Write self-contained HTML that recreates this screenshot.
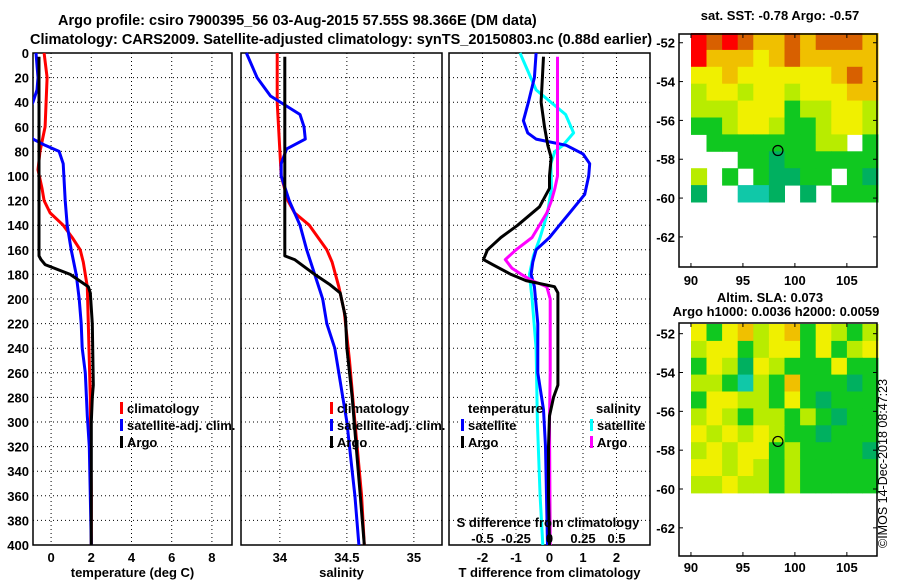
<!DOCTYPE html>
<html><head><meta charset="utf-8"><style>
html,body{margin:0;padding:0;background:#fff;}
svg{display:block;font-family:"Liberation Sans",sans-serif;}
text{font-weight:bold;font-size:13px;fill:#000;}
</style></head><body>
<svg id="chart" width="900" height="580" viewBox="0 0 900 580" xmlns="http://www.w3.org/2000/svg">
<text x="58" y="25" style="font-size:14.5px">Argo profile: csiro 7900395_56 03-Aug-2015 57.55S 98.366E (DM data)</text>
<text x="30" y="44" style="font-size:14.5px">Climatology: CARS2009. Satellite-adjusted climatology: synTS_20150803.nc (0.88d earlier)</text>
<g id="plots"></g>
</svg>
<script>
// ---------- data ----------
const depthTicks = [0,20,40,60,80,100,120,140,160,180,200,220,240,260,280,300,320,340,360,380,400];
const tempTicks = [0,2,4,6,8];
const salTicks = [34,34.5,35];
const salTickLabels = ["34","34.5","35"];
const dTTicks = [-2,-1,0,1,2];
const dSTicks = [-0.5,-0.25,0,0.25,0.5];
const dSTickLabels = ["-0.5","-0.25","0","0.25","0.5"];

const tArgoD = [3,165,168,172,180,190,195,220,270,280,300,400];
const tArgoV = [-0.6,-0.6,-0.5,-0.3,0.95,1.85,1.95,2.05,2.1,2.05,2.0,2.0];
const tClimD = [0,20,40,60,80,95,110,120,130,140,150,160,170,190,220,280,360,400];
const tClimV = [-0.35,-0.2,-0.25,-0.3,-0.55,-0.65,-0.45,-0.35,-0.05,0.6,1.05,1.45,1.6,1.8,1.85,1.95,2.0,2.0];
const tSatD = [0,20,30,40,50,60,70,75,80,90,120,140,160,180,200,220,240,260,295,320,360,400];
const tSatV = [-0.75,-0.65,-0.7,-0.9,-1.3,-1.3,-0.9,-0.3,0.4,0.6,0.7,0.8,1.0,1.25,1.4,1.5,1.55,1.7,1.8,1.9,1.95,2.0];

const sArgoD = [3,165,168,180,188,195,215,240,280,320,360,400];
const sArgoV = [34.037,34.037,34.11,34.26,34.37,34.45,34.49,34.5,34.54,34.57,34.6,34.63];
const sClimD = [0,40,80,100,120,130,140,160,170,190,210,250,300,360,400];
const sClimV = [33.98,33.98,34.0,34.01,34.06,34.11,34.22,34.35,34.39,34.44,34.48,34.52,34.56,34.61,34.63];
const sSatD = [0,20,35,50,60,70,78,90,100,120,140,160,180,200,220,240,260,280,300,320,360,400];
const sSatV = [33.75,33.83,33.93,34.15,34.18,34.19,34.05,34.01,34.01,34.07,34.15,34.2,34.26,34.32,34.35,34.41,34.44,34.47,34.5,34.52,34.56,34.59];

const dTArgoD = [3,40,60,75,85,100,110,125,140,150,160,168,172,180,185,190,195,220,270,280,295,320,360,400];
const dTArgoV = [-0.18,-0.25,-0.15,-0.05,0.05,0,0,-0.3,-0.95,-1.45,-1.85,-1.97,-1.7,-1.15,-0.7,0.15,0.25,0.25,0.25,0.12,0,-0.03,-0.03,0];
const dTSatD = [0,20,40,55,65,70,75,82,90,100,115,130,140,150,160,170,180,190,220,260,290,320,400];
const dTSatV = [-0.4,-0.45,-0.63,-0.78,-0.65,-0.4,0.5,1.0,1.2,1.17,1.05,0.6,0.3,0,-0.4,-0.5,-0.55,-0.45,-0.35,-0.35,-0.18,-0.12,-0.06];
const dSSatD = [0,30,50,65,75,80,90,110,130,150,165,180,200,240,300,360,400];
const dSSatV = [-0.22,-0.1,0.12,0.18,0.1,0.04,0.01,0.015,-0.015,-0.07,-0.12,-0.15,-0.13,-0.1,-0.09,-0.07,-0.05];
const dSArgoD = [3,100,110,120,130,150,160,168,175,180,185,190,200,260,300,400];
const dSArgoV = [0.06,0.06,0.04,0.015,-0.02,-0.13,-0.25,-0.33,-0.28,-0.21,-0.13,-0.02,0.005,0.005,0,0.005];

const mapLonTicks = [90,95,100,105];
const mapLatTicks = [-52,-54,-56,-58,-60,-62];
const sstGrid = [
 [8,7,8,7,6,6,7,6,7,7,7,6],
 [8,6,6,6,5,6,7,6,6,6,6,6],
 [5,5,6,5,5,5,5,5,5,6,7,6],
 [4,5,5,4,5,5,4,5,5,5,6,6],
 [4,4,4,5,5,5,3,4,4,5,5,4],
 [3,3,4,5,5,4,3,3,4,5,5,4],
 [0,3,3,3,3,3,3,3,4,4,0,3],
 [0,0,0,3,3,2,3,3,3,3,3,3],
 [4,0,3,0,3,2,2,3,3,0,3,2],
 [2,0,0,1,1,2,0,2,0,3,3,3]];
const slaGrid = [
 [5,3,5,6,4,5,6,3,5,4,3,4],
 [4,5,5,3,4,5,5,3,5,3,4,5],
 [3,5,4,2,5,4,3,3,3,5,3,3],
 [4,4,3,1,4,3,6,3,3,3,2,3],
 [3,5,5,4,4,3,5,3,2,3,3,3],
 [4,5,4,3,4,4,3,4,3,2,3,3],
 [5,4,5,4,5,4,3,3,2,3,3,3],
 [4,5,4,5,5,3,4,3,3,3,3,2],
 [5,5,4,5,4,3,4,3,3,3,3,3],
 [4,4,5,4,4,3,4,3,3,3,3,3]];
const palette = ["#ffffff","#10c8a8","#00b060","#10c820","#b8ec00","#f0f000","#f0c000","#d86000","#ff0000"];

// ---------- helpers ----------
const NS = "http://www.w3.org/2000/svg";
const root = document.getElementById('plots');
function mk(tag, attrs, parent){const e=document.createElementNS(NS,tag);for(const k in attrs)e.setAttribute(k,attrs[k]);(parent||root).appendChild(e);return e;}
const Y0 = 53, Y1 = 545;
function yD(d){return Y0 + d*(Y1-Y0)/400;}

function panel(name, x0, x1, vmin, vmax, ticks, tickLabels, xlabel){
  const g = mk('g',{});
  
  
  const sx = v => x0 + (v-vmin)*(x1-x0)/(vmax-vmin);
  const cp = mk('clipPath',{id:'clip-'+name},g);
  mk('rect',{x:x0,y:Y0-3,width:x1-x0,height:Y1-Y0+3},cp);
  depthTicks.forEach(d=>{
    const l = mk('line',{x1:x0,x2:x1,y1:yD(d),y2:yD(d),stroke:'#000','stroke-width':1,'stroke-dasharray':'1,3'},g);
    
    
  });
  ticks.forEach((t,i)=>{
    const l = mk('line',{x1:sx(t),x2:sx(t),y1:Y0,y2:Y1,stroke:'#000','stroke-width':1,'stroke-dasharray':'1,3'},g);
    
    
    const tx = mk('text',{x:sx(t),y:Y1+17,'text-anchor':'middle'},g);
    tx.textContent = tickLabels ? tickLabels[i] : String(t);
    
    
  });
  const fr = mk('rect',{x:x0,y:Y0,width:x1-x0,height:Y1-Y0,fill:'none',stroke:'#000','stroke-width':1.5},g);
  
  
  const xl = mk('text',{x:(x0+x1)/2,y:577,'text-anchor':'middle'},g);
  xl.textContent = xlabel;
  
  
  return {g,sx,clip:'url(#clip-'+name+')'};
}
function series(p, ds, vs, color, name, scale){
  const pts = ds.map((d,i)=>(p.sx(vs[i]*(scale||1))).toFixed(1)+','+yD(d).toFixed(1)).join(' ');
  const l = mk('polyline',{points:pts,fill:'none',stroke:color,'stroke-width':3,'stroke-linejoin':'round','clip-path':p.clip},p.g);
  
  
}
function legend(g, x, y, color, label, name){
  const r = mk('rect',{x:x,y:y-11,width:3,height:12,fill:color},g);
  
  
  const t = mk('text',{x:x+7,y:y},g);
  t.textContent = label;
  
  
}

// y tick labels
depthTicks.forEach(d=>{
  const t = mk('text',{x:29,y:yD(d)+5,'text-anchor':'end'});
  t.textContent = String(d);
  
  
});

// panel 1 temperature
const p1 = panel('temperature-panel',33,232,-0.9,9.0,tempTicks,null,'temperature (deg C)');
series(p1,tClimD,tClimV,'#ff0000','climatology-temp-line');
series(p1,tSatD,tSatV,'#0000ff','satellite-temp-line');
series(p1,tArgoD,tArgoV,'#000000','argo-temp-line');
legend(p1.g,120,413,'#ff0000','climatology','legend-climatology');
legend(p1.g,120,430,'#0000ff','satellite-adj. clim.','legend-satellite');
legend(p1.g,120,447,'#000000','Argo','legend-argo');

// panel 2 salinity
const p2 = panel('salinity-panel',241,442,33.71,35.21,salTicks,salTickLabels,'salinity');
series(p2,sClimD,sClimV,'#ff0000','climatology-salinity-line');
series(p2,sSatD,sSatV,'#0000ff','satellite-salinity-line');
series(p2,sArgoD,sArgoV,'#000000','argo-salinity-line');
legend(p2.g,330,413,'#ff0000','climatology','legend-climatology-sal');
legend(p2.g,330,430,'#0000ff','satellite-adj. clim.','legend-satellite-sal');
legend(p2.g,330,447,'#000000','Argo','legend-argo-sal');

// panel 3 differences
const p3 = panel('difference-panel',449,650,-3,3,dTTicks,null,'T difference from climatology');
series(p3,dSSatD,dSSatV,'#00ffff','satellite-salinity-diff-line',4);
series(p3,dTSatD,dTSatV,'#0000ff','satellite-temp-diff-line');
series(p3,dSArgoD,dSArgoV,'#ff00ff','argo-salinity-diff-line',4);
series(p3,dTArgoD,dTArgoV,'#000000','argo-temp-diff-line');
(function(){
  let t = mk('text',{x:468,y:413},p3.g); t.textContent='temperature';
   
  t = mk('text',{x:596,y:413},p3.g); t.textContent='salinity';
   
  legend(p3.g,461,430,'#0000ff','satellite','legend-temp-satellite');
  legend(p3.g,461,447,'#000000','Argo','legend-temp-argo');
  legend(p3.g,590,430,'#00ffff','satellite','legend-sal-satellite');
  legend(p3.g,590,447,'#ff00ff','Argo','legend-sal-argo');
  t = mk('text',{x:548,y:527,'text-anchor':'middle'},p3.g); t.textContent='S difference from climatology';
   
  dSTicks.forEach((v,i)=>{
    const s = mk('text',{x:p3.sx(v*4),y:543,'text-anchor':'middle'},p3.g);
    s.textContent = dSTickLabels[i];
    
    
  });
})();

// maps
function map(name, fx0, fy0, fx1, fy1, latTop, grid, circleLat, labelY){
  const g = mk('g',{});
  
  
  const lonMin=88.85, lonMax=107.9, latBot=latTop-12;
  const sx = lon => fx0 + (lon-lonMin)*(fx1-fx0)/(lonMax-lonMin);
  const sy = lat => fy0 + (latTop-lat)*(fy1-fy0)/(latTop-latBot);
  const rows = grid.length, cols = grid[0].length;
  const lon0=90, lon1=108, lat0=-51.5, lat1=-60.2;
  const cw=(lon1-lon0)/cols, ch=(lat0-lat1)/rows;
  grid.forEach((row,r)=>row.forEach((v,c)=>{
    if(!v) return;
    const x=sx(lon0+c*cw), y=sy(lat0-r*ch);
    const cell = mk('rect',{x:x.toFixed(1),y:y.toFixed(1),width:(sx(lon0+(c+1)*cw)-x+0.5).toFixed(1),height:(sy(lat0-(r+1)*ch)-y+0.5).toFixed(1),fill:palette[v]},g);
    
    
  }));
  const fr = mk('rect',{x:fx0,y:fy0,width:fx1-fx0,height:fy1-fy0,fill:'none',stroke:'#000','stroke-width':1.5},g);
  
  
  mapLatTicks.forEach(l=>{
    const t = mk('text',{x:fx0-4,y:sy(l)+5,'text-anchor':'end'},g);
    t.textContent=String(l);
    
    
    mk('line',{x1:fx0,x2:fx0+4,y1:sy(l),y2:sy(l),stroke:'#000'},g);
    mk('line',{x1:fx1-4,x2:fx1,y1:sy(l),y2:sy(l),stroke:'#000'},g);
  });
  mapLonTicks.forEach(l=>{
    const t = mk('text',{x:sx(l),y:labelY,'text-anchor':'middle'},g);
    t.textContent=String(l);
    
    
    mk('line',{x1:sx(l),x2:sx(l),y1:fy1-4,y2:fy1,stroke:'#000'},g);
    mk('line',{x1:sx(l),x2:sx(l),y1:fy0,y2:fy0+4,stroke:'#000'},g);
  });
  const c = mk('circle',{cx:sx(98.366),cy:sy(circleLat),r:5,fill:'none',stroke:'#000','stroke-width':1.2},g);
  
  
}
map('sst-map',679,34,877,267,-51.55,sstGrid,-57.55,285);
map('sla-map',679,323,877,556,-51.45,slaGrid,-57.55,572);

(function(){
  let t = mk('text',{x:780,y:20,'text-anchor':'middle'}); t.textContent='sat. SST: -0.78 Argo: -0.57';
   
  t = mk('text',{x:770,y:302,'text-anchor':'middle'}); t.textContent='Altim. SLA: 0.073';
   
  t = mk('text',{x:776,y:316,'text-anchor':'middle'}); t.textContent='Argo h1000: 0.0036 h2000: 0.0059';
   
  t = mk('text',{x:887,y:548,transform:'rotate(-90 887 548)',style:'font-weight:normal;font-size:12.5px'}); t.textContent='©IMOS 14-Dec-2018 08:47:23';
   
})();
</script>
</body></html>
